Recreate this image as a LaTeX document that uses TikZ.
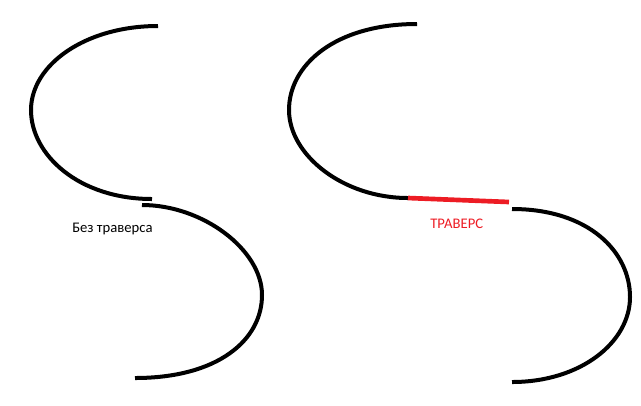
\documentclass[tikz,border=0pt]{standalone}
\usepackage{fontspec}
\setmainfont{Carlito}
\definecolor{paintred}{RGB}{237,28,36}
\begin{document}
\begin{tikzpicture}[x=0.75pt,y=-0.75pt,
  rail/.style={line width=3pt},
  trav/.style={line width=3.5pt,paintred},
  caption/.style={anchor=base west,inner sep=0pt,font=\fontsize{11}{13}\selectfont}]
  \useasboundingbox (0,0) rectangle (641,405);

  % left S, no traverse
  \coordinate (ltop) at (158,26);
  \coordinate (lleft) at (31,110);
  \coordinate (lend) at (152,199);
  \coordinate (lstart) at (142,205);
  \coordinate (lright) at (262,295);
  \coordinate (lbot) at (135,378);

  \draw[rail] (ltop) .. controls (85,26) and (31,65) .. (lleft)
                     .. controls (31,155) and (79,199) .. (lend);
  \draw[rail] (lstart) .. controls (203,205) and (262,250) .. (lright)
                       .. controls (262,340) and (218,378) .. (lbot);

  \node[caption] (without) at (72,232) {Без траверса};

  % right S, with traverse
  \coordinate (rtop) at (417,24);
  \coordinate (rleft) at (289,110);
  \coordinate (rend) at (408,198);
  \coordinate (rstart) at (512,209);
  \coordinate (rright) at (630,297);
  \coordinate (rbot) at (512,382);

  \draw[rail] (rtop) .. controls (335,24) and (289,65) .. (rleft)
                     .. controls (289,155) and (343,198) .. (rend);
  \draw[rail] (rstart) .. controls (589,209) and (630,252) .. (rright)
                       .. controls (630,342) and (581,382) .. (rbot);

  \coordinate (travend) at (509,202);
  \draw[trav] (rend) -- (travend);

  \node[caption,text=paintred] (with) at (430,228) {ТРАВЕРС};
\end{tikzpicture}
\end{document}
